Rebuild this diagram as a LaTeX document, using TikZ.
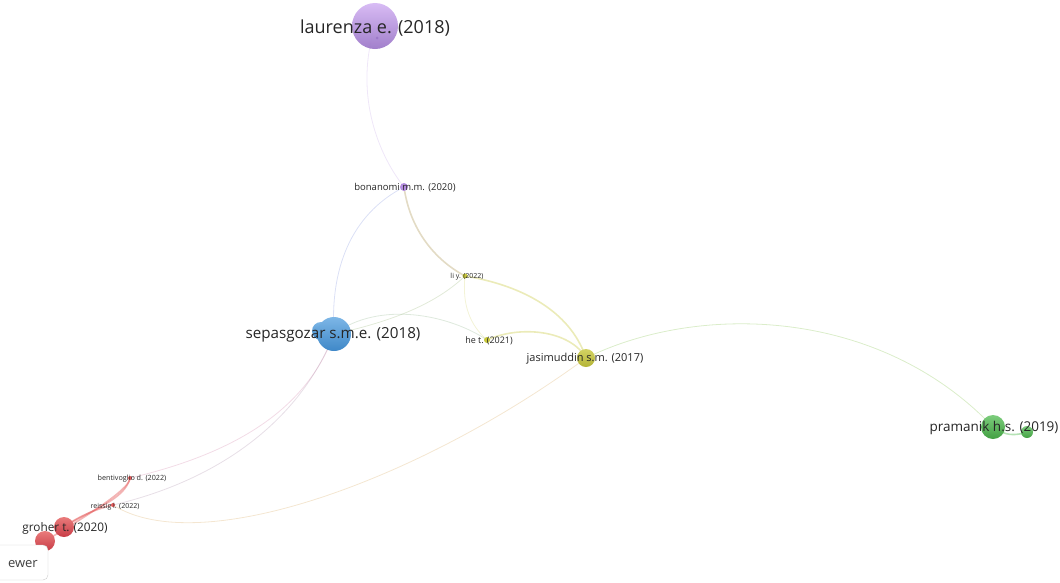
\documentclass[tikz,border=0pt]{standalone}
\usepackage{fontspec}
\setmainfont{Open Sans}
\begin{document}
\begin{tikzpicture}[x=1pt,y=-1pt,
  lbl/.style={text=black!85,inner sep=0pt},
  edge/.style={line width=0.8pt,opacity=0.3},
  thick edge/.style={line width=1.6pt,opacity=0.45}]
\definecolor{cpur}{HTML}{B48CE0}
\definecolor{cpurL}{HTML}{D6B8F4}
\definecolor{cpurD}{HTML}{9C78C8}
\definecolor{cblu}{HTML}{5CA4E0}
\definecolor{cbluD}{HTML}{3F88C8}
\definecolor{cyel}{HTML}{C8C83C}
\definecolor{cgrn}{HTML}{5CC05C}
\definecolor{cgrnD}{HTML}{42A042}
\definecolor{cred}{HTML}{E45A5A}
\definecolor{credD}{HTML}{C83C46}
\useasboundingbox (0,0) rectangle (1060,582);
% node positions
\coordinate (L) at (375,26);
\coordinate (B) at (404,187);
\coordinate (Y) at (465,276);
\coordinate (H) at (487,340);
\coordinate (J) at (586,358);
\coordinate (S) at (334,334);
\coordinate (S2) at (321,331);
\coordinate (P) at (993,427);
\coordinate (P2) at (1027,432);
\coordinate (G) at (64,527);
\coordinate (G2) at (45,541);
\coordinate (BE) at (130,478);
\coordinate (R) at (113,505);
% edges
\draw[edge,cpur!70] (L) .. controls (355,90) and (375,150) .. (B);
\draw[edge,cpur!50!cblu] (B) .. controls (350,215) and (330,270) .. (S);
\draw[thick edge,cyel!60!cpur] (B) .. controls (410,230) and (435,260) .. (Y);
\draw[thick edge,cyel!80] (Y) .. controls (520,285) and (570,310) .. (J);
\draw[edge,cyel!70] (Y) .. controls (462,305) and (470,325) .. (H);
\draw[edge,cyel!60!cblu] (Y) .. controls (440,300) and (400,320) .. (S);
\draw[edge,cblu!50!cyel] (S) .. controls (380,300) and (450,315) .. (H);
\draw[thick edge,cyel!80] (H) .. controls (520,325) and (570,330) .. (J);
\draw[edge,cgrn!60!cyel] (J) .. controls (700,302) and (880,308) .. (P);
\draw[edge,cred!40!cyel,opacity=0.25] (J) .. controls (420,480) and (200,560) .. (R);
\draw[edge,cpur!50!cred,opacity=0.25] (S) .. controls (310,400) and (250,450) .. (BE);
\draw[edge,cblu!50!cred,opacity=0.25] (S) .. controls (300,420) and (220,480) .. (R);
\draw[thick edge,cred] (G) .. controls (90,510) and (125,500) .. (BE);
\draw[thick edge,cred] (G2) .. controls (80,520) and (130,490) .. (BE);
\draw[thick edge,cred] (G) .. controls (80,515) and (100,508) .. (R);
\draw[thick edge,cgrn] (P) .. controls (1005,436) and (1015,436) .. (P2);
% nodes
\shade[top color=cpurL,bottom color=cpurD,opacity=0.95] (L) circle (23);
\fill[cpurD] (377,38) circle (1.5);
\fill[cpur] (B) circle (4);
\fill[cyel] (Y) circle (2.5);
\fill[cyel] (H) circle (3);
\shade[top color=cyel!80!white,bottom color=cyel!90!black] (J) circle (9);
\shade[top color=cblu!80!white,bottom color=cbluD] (S2) circle (9);
\shade[top color=cblu!80!white,bottom color=cbluD] (S) circle (17);
\shade[top color=cgrn!80!white,bottom color=cgrnD] (P) circle (12);
\shade[top color=cgrn!80!white,bottom color=cgrnD] (P2) circle (6);
\shade[top color=cred!80!white,bottom color=credD] (G2) circle (10);
\shade[top color=cred!80!white,bottom color=credD] (G) circle (10);
\fill[cred] (BE) circle (2);
\fill[cred] (R) circle (2);
% labels
\node[lbl,font=\fontsize{18}{21}\selectfont] (nL) at (375,28) {laurenza e. (2018)};
\node[lbl,font=\fontsize{9.5}{11}\selectfont] (nB) at (405,188) {bonanomi m.m. (2020)};
\node[lbl,font=\fontsize{7}{8}\selectfont] (nY) at (467,277) {li y. (2022)};
\node[lbl,font=\fontsize{9}{10}\selectfont] (nH) at (489,341) {he t. (2021)};
\node[lbl,font=\fontsize{11}{13}\selectfont] (nJ) at (585,359) {jasimuddin s.m. (2017)};
\node[lbl,font=\fontsize{15.2}{17}\selectfont] (nS) at (333,335) {sepasgozar s.m.e. (2018)};
\node[lbl,font=\fontsize{13.5}{15}\selectfont] (nP) at (994,428) {pramanik h.s. (2019)};
\node[lbl,font=\fontsize{11.8}{13}\selectfont] (nG) at (65,528) {groher t. (2020)};
\node[lbl,font=\fontsize{7.2}{8}\selectfont] (nBE) at (132,479) {bentivoglio d. (2022)};
\node[lbl,font=\fontsize{7}{8}\selectfont] (nR) at (115,507) {reissig l. (2022)};
% viewer button
\draw[black!20,fill=white,rounded corners=5pt] (-40,545) rectangle (48,580);
\node[lbl,anchor=east,font=\fontsize{13}{15}\selectfont,text=black!75] (btn) at (38,564) {ewer};
\end{tikzpicture}
\end{document}
